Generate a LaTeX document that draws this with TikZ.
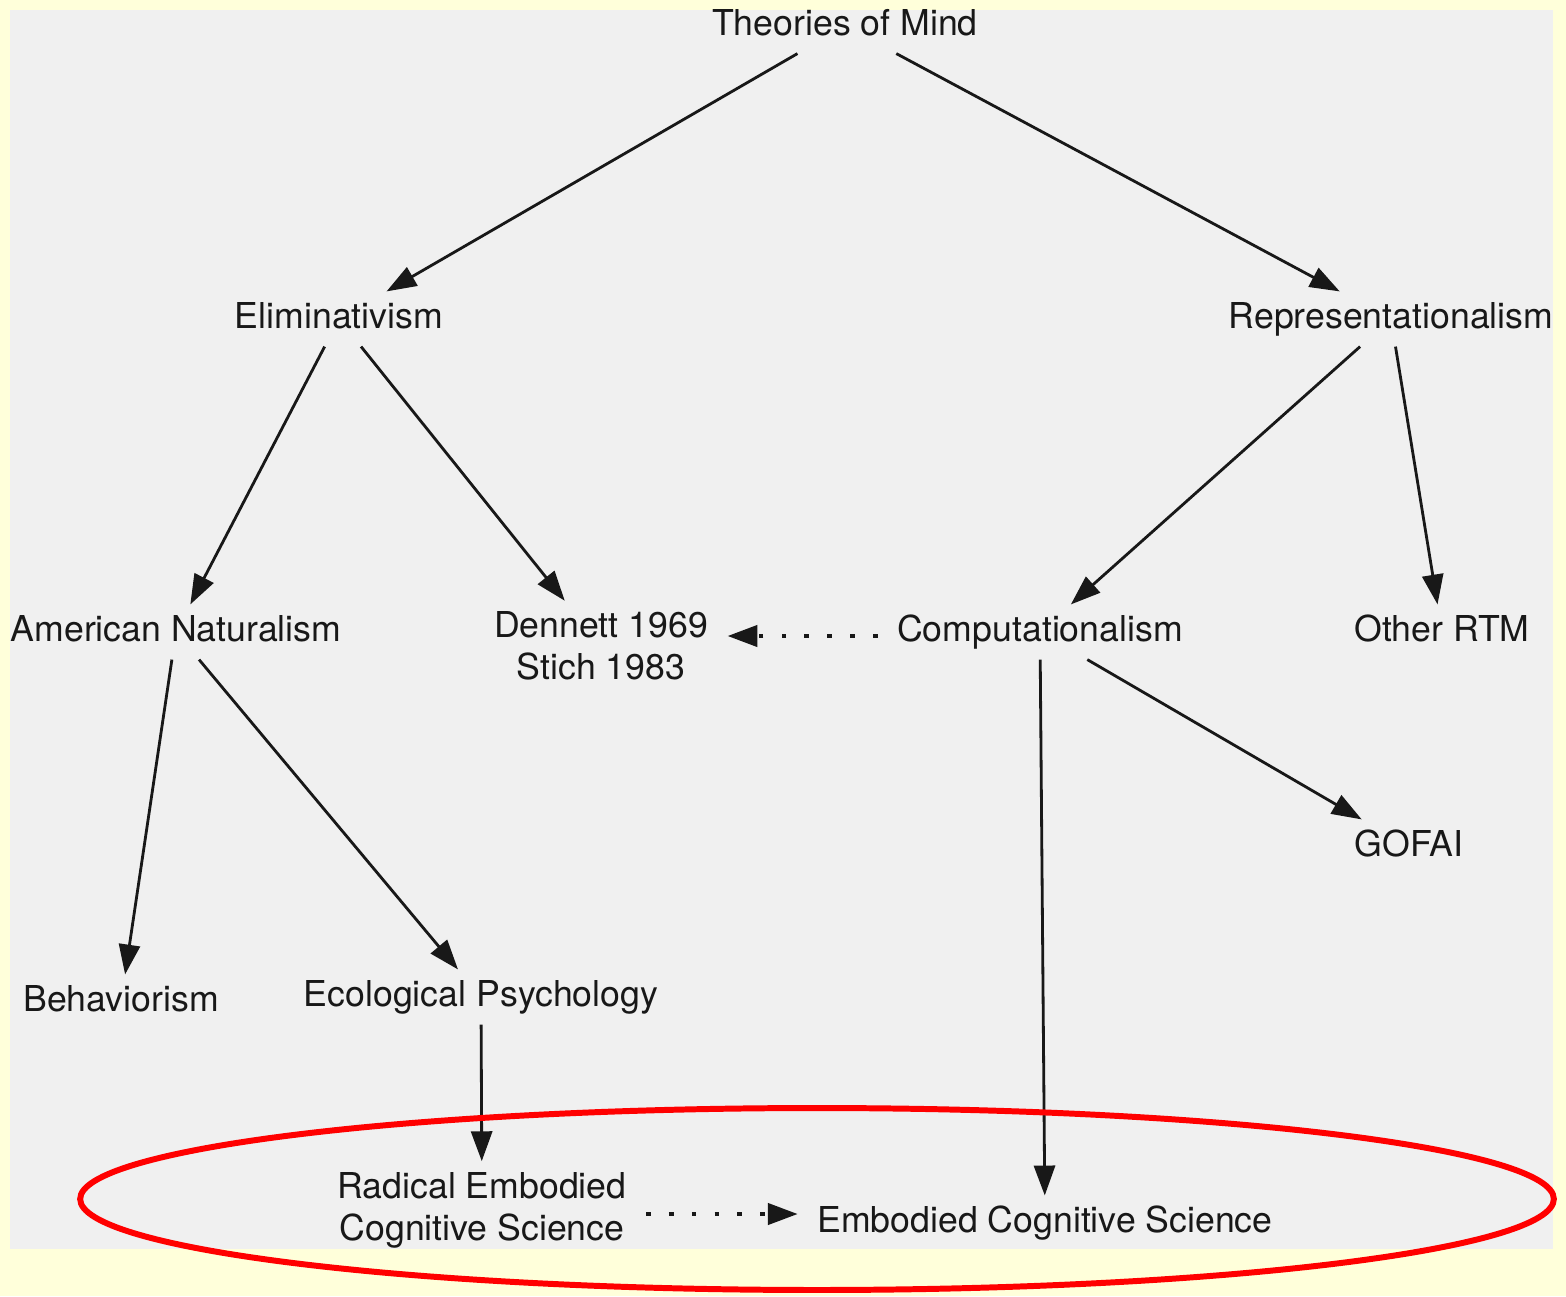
\documentclass[tikz,border=0pt]{standalone}
\usepackage{fontspec}
\setmainfont{TeX Gyre Heros}
\usetikzlibrary{arrows.meta}
\definecolor{bgyellow}{RGB}{255,255,218}
\definecolor{panel}{RGB}{240,240,240}
\definecolor{ink}{RGB}{24,24,24}
\begin{document}
\begin{tikzpicture}[x=0.02cm,y=-0.02cm,
  lbl/.style={font=\fontsize{20.3}{24}\selectfont, text=ink, inner xsep=11pt, inner ysep=6pt, align=center},
  one/.style={text height=15pt, text depth=4pt},
  arr/.style={draw=ink, line width=1.6pt, -{Triangle[length=17pt,width=12pt]}},
  dotarr/.style={arr, line width=2.3pt, dash pattern=on 2.6pt off 10.4pt}]
\useasboundingbox (0,0) rectangle (1566,1296);
\fill[bgyellow] (0,0) rectangle (1566,1296);
\fill[panel] (10,10) rectangle (1553,1249);

\node[lbl,one] (th) at (845,26) {Theories of Mind};
\node[lbl,one] (el) at (339,319) {Eliminativism};
\node[lbl,one] (rep) at (1391,319) {Representationalism};
\node[lbl,one] (an) at (176,632) {American Naturalism};
\node[lbl] (dn) at (601,646) {Dennett 1969\\Stich 1983};
\node[lbl,one] (cp) at (1040,632) {Computationalism};
\node[lbl,one] (ort) at (1442,632) {Other RTM};
\node[lbl,one] (gof) at (1409,847) {GOFAI};
\node[lbl,one] (beh) at (121,1002) {Behaviorism};
\node[lbl,one] (eco) at (481,997) {Ecological Psychology};
\node[lbl] (rad) at (482,1210) {Radical Embodied\\Cognitive Science};
\node[lbl,one] (ecs) at (1045,1223) {Embodied Cognitive Science};

\draw[arr] (th) -- (el);
\draw[arr] (th) -- (rep);
\draw[arr] (el) -- (an);
\draw[arr] (el) -- (dn);
\draw[arr] (rep) -- (cp);
\draw[arr] (rep) -- (ort);
\draw[arr] (an) -- (beh);
\draw[arr] (an) -- (eco);
\draw[arr] (cp) -- (ecs);
\draw[arr] (cp) -- (gof);
\draw[arr] (eco) -- (rad);
\draw[dotarr] ([yshift=-0.08cm]cp.west) -- ([yshift=-0.08cm]cp.west -| dn.east);
\draw[dotarr] ([yshift=-0.08cm]rad.east) -- ([yshift=-0.08cm]rad.east -| ecs.west);

\draw[red, line width=3.4pt] (817,1199) ellipse [x radius=14.74cm, y radius=1.82cm];
\end{tikzpicture}
\end{document}
